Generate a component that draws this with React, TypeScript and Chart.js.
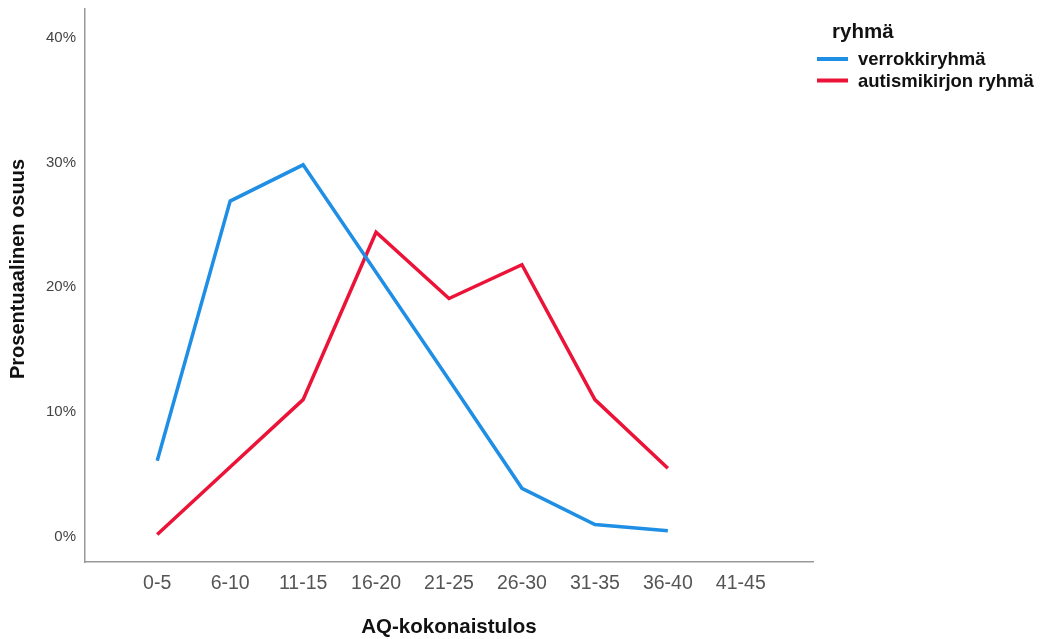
import React, { useEffect, useRef } from "react";
import { Chart, registerables } from "chart.js";

Chart.register(...registerables);

const categories = ["0-5", "6-10", "11-15", "16-20", "21-25", "26-30", "31-35", "36-40", "41-45"];
const controlGroup = [6.1, 26.9, 29.8, 21.2, 12.6, 3.9, 1.0, 0.5];
const autismGroup = [0.2, 5.6, 11.0, 24.4, 19.1, 21.8, 11.0, 5.5];
const yTicks = [0, 10, 20, 30, 40];
const seriesNames = ["verrokkiryhmä", "autismikirjon ryhmä"];
const legendTitle = "ryhmä";
const xTitle = "AQ-kokonaistulos";
const yTitle = "Prosentuaalinen osuus";

const FONT = "'Liberation Sans', Arial, sans-serif";
const BLUE = "#1F8FE6";
const RED = "#EB1337";

const titlesPlugin = {
  id: "customTitlesLegend",
  afterDraw(chart: any) {
    const ctx = chart.ctx;
    const area = chart.chartArea;
    ctx.save();
    ctx.fillStyle = "#111";
    // y title
    ctx.save();
    ctx.translate(18, 269);
    ctx.rotate(-Math.PI / 2);
    ctx.font = `bold 20px ${FONT}`;
    ctx.textAlign = "center";
    ctx.textBaseline = "middle";
    ctx.fillText(yTitle, 0, 0);
    ctx.restore();
    // x title
    ctx.font = `bold 20.5px ${FONT}`;
    ctx.textAlign = "center";
    ctx.textBaseline = "alphabetic";
    ctx.fillText(xTitle, (area.left + area.right) / 2, 633);
    // legend
    ctx.textAlign = "left";
    ctx.font = `bold 20.5px ${FONT}`;
    ctx.fillText(legendTitle, 832, 38);
    ctx.font = `bold 18.5px ${FONT}`;
    ctx.textBaseline = "middle";
    chart.data.datasets.forEach((ds: any, i: number) => {
      const y = 59 + i * 21.5;
      ctx.strokeStyle = ds.borderColor;
      ctx.lineWidth = 4;
      ctx.beginPath();
      ctx.moveTo(817, y);
      ctx.lineTo(848, y);
      ctx.stroke();
      ctx.fillStyle = "#111";
      ctx.fillText(ds.label, 858, y + 1);
    });
    ctx.restore();
  },
};

export default function App() {
  const ref = useRef<HTMLCanvasElement | null>(null);
  useEffect(() => {
    if (!ref.current) return;
    const chart = new Chart(ref.current, {
      type: "line",
      data: {
        datasets: [
          {
            label: seriesNames[0],
            data: controlGroup.map((v, i) => ({ x: i, y: v })),
            borderColor: BLUE,
            backgroundColor: BLUE,
            borderWidth: 3.5,
            pointRadius: 0,
            tension: 0,
          },
          {
            label: seriesNames[1],
            data: autismGroup.map((v, i) => ({ x: i, y: v })),
            borderColor: RED,
            backgroundColor: RED,
            borderWidth: 3.5,
            pointRadius: 0,
            tension: 0,
          },
        ],
      },
      options: {
        animation: false,
        responsive: true,
        maintainAspectRatio: false,
        layout: { autoPadding: false, padding: { left: 0, right: 230, top: 9, bottom: 0 } },
        plugins: { legend: { display: false }, tooltip: { enabled: false } },
        scales: {
          x: {
            type: "linear",
            min: -0.99,
            max: 8.99,
            afterFit: (s: any) => {
              s.height = 77;
              s.paddingLeft = 0;
              s.paddingRight = 0;
            },
            afterBuildTicks: (s: any) => {
              s.ticks = categories.map((_, i) => ({ value: i }));
            },
            ticks: {
              autoSkip: false,
              maxRotation: 0,
              padding: 10,
              color: "#555",
              font: { family: FONT, size: 19.5 },
              callback: (v: any) => categories[Math.round(Number(v))] ?? "",
            },
            grid: { display: false, drawTicks: false },
            border: { display: true, color: "#999", width: 1.5 },
          },
          y: {
            type: "linear",
            min: -2,
            max: 42.28,
            afterFit: (s: any) => {
              s.width = 85;
              s.paddingTop = 0;
              s.paddingBottom = 0;
            },
            afterBuildTicks: (s: any) => {
              s.ticks = yTicks.map((v) => ({ value: v }));
            },
            ticks: {
              padding: 9,
              color: "#444",
              font: { family: FONT, size: 15 },
              callback: (v: any) => `${v}%`,
            },
            grid: { display: false, drawTicks: false },
            border: { display: true, color: "#999", width: 1.5 },
          },
        },
      },
      plugins: [titlesPlugin],
    });
    return () => chart.destroy();
  }, []);
  return (
    <div style={{ position: "fixed", left: 0, top: 0, width: 1043, height: 639, background: "#fff" }}>
      <canvas ref={ref} />
    </div>
  );
}
